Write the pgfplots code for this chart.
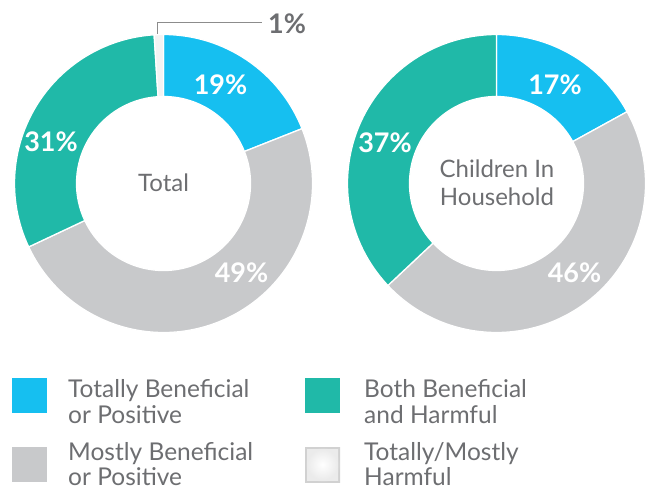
\documentclass[border=0pt]{standalone}
\usepackage{pgfplots}
\usepackage{pgfplotstable}
\pgfplotsset{compat=1.18}
\usepackage{fontspec}
\setmainfont{Lato}

\definecolor{segblue}{HTML}{16BFF0}
\definecolor{segteal}{HTML}{20B9A8}
\definecolor{seggray}{HTML}{C8C9CB}
\definecolor{segwhite}{HTML}{F3F3F3}
\definecolor{txtgray}{HTML}{6D6E71}
\definecolor{leader}{HTML}{8C8C8C}

% shares in percent, clockwise from 12 o'clock
\pgfplotstableread{
value fill
19 segblue
49 seggray
31 segteal
1  segwhite
}\totaltab
\pgfplotstableread{
value fill
17 segblue
46 seggray
37 segteal
}\kidstab

\def\Rout{149}
\def\Rin{87}

% #1 table, #2 centre x, #3 centre y (axis units)
\newcommand\donut[3]{%
  \pgfplotstablegetrowsof{#1}%
  \pgfmathtruncatemacro\lastrow{\pgfplotsretval-1}%
  \def\cum{0}%
  \pgfplotsforeachungrouped \rowidx in {0,...,\lastrow}{%
    \pgfplotstablegetelem{\rowidx}{value}\of{#1}\let\val\pgfplotsretval
    \pgfplotstablegetelem{\rowidx}{fill}\of{#1}\let\col\pgfplotsretval
    \pgfmathsetmacro\aa{90-3.6*\cum}%
    \pgfmathsetmacro\bb{90-3.6*(\cum+\val)}%
    \pgfmathsetmacro\xa{#2+\Rout*cos(\aa)}%
    \pgfmathsetmacro\ya{#3+\Rout*sin(\aa)}%
    \pgfmathsetmacro\xb{#2+\Rin*cos(\bb)}%
    \pgfmathsetmacro\yb{#3+\Rin*sin(\bb)}%
    \edef\temp{\noexpand\filldraw[fill=\col, draw=white, line width=1.3pt]
      (axis cs:\xa,\ya) arc[start angle=\aa, end angle=\bb, radius=\Rout pt]
      -- (axis cs:\xb,\yb) arc[start angle=\bb, end angle=\aa, radius=\Rin pt] -- cycle;}%
    \temp
    \pgfmathsetmacro\cum{\cum+\val}%
  }%
}

\begin{document}
\begin{tikzpicture}
\begin{axis}[
  x=1pt, y=1pt, disabledatascaling,
  xmin=0, xmax=650, ymin=0, ymax=491,
  scale only axis, hide axis, clip=false,
]
\donut{\totaltab}{163.5}{307.5}
\donut{\kidstab}{496.5}{307.5}

% percentage labels
\begin{scope}[every node/.style={font=\fontsize{27}{27}\selectfont\bfseries, text=white, inner sep=0pt}]
\node at (axis cs:220.5,406) {19\%};
\node at (axis cs:241.5,218.5) {49\%};
\node at (axis cs:51,349.5) {31\%};
\node at (axis cs:555,406) {17\%};
\node at (axis cs:574.5,218) {46\%};
\node at (axis cs:385,348.5) {37\%};
\node[text=txtgray] at (axis cs:287,467.5) {1\%};
\end{scope}
\draw[leader, line width=1.4pt] (axis cs:157.3,457) -- (axis cs:157.3,468.5) -- (axis cs:262,468.5);

% centre captions
\begin{scope}[every node/.style={font=\fontsize{24}{28}\selectfont, text=txtgray, inner sep=0pt, align=center}]
\node at (axis cs:163.5,308) {Total};
\node at (axis cs:497,308) {Children In\\Household};
\end{scope}

% legend
\fill[segblue] (axis cs:12,113) rectangle (axis cs:47,78);
\fill[seggray] (axis cs:12,44) rectangle (axis cs:47,9);
\fill[segteal] (axis cs:305,113) rectangle (axis cs:340,78);
\shade[inner color=white, outer color=black!18] (axis cs:305,44) rectangle (axis cs:340,9);
\shade[inner color=white, outer color=white!92!black] (axis cs:307,42) rectangle (axis cs:338,11);
\begin{scope}[every node/.style={font=\fontsize{24.5}{26}\selectfont, text=txtgray, inner sep=0pt, anchor=base west}]
\node at (axis cs:68,93.8) {Totally Beneficial};
\node at (axis cs:68,68) {or Positive};
\node at (axis cs:68,31) {Mostly Beneficial};
\node at (axis cs:68,5.5) {or Positive};
\node at (axis cs:364,93.8) {Both Beneficial};
\node at (axis cs:364,68) {and Harmful};
\node at (axis cs:364,31) {Totally/Mostly};
\node at (axis cs:364,5.5) {Harmful};
\end{scope}
\end{axis}
\pgfresetboundingbox
\useasboundingbox (current axis.south west) rectangle (current axis.north east);
\end{tikzpicture}
\end{document}
